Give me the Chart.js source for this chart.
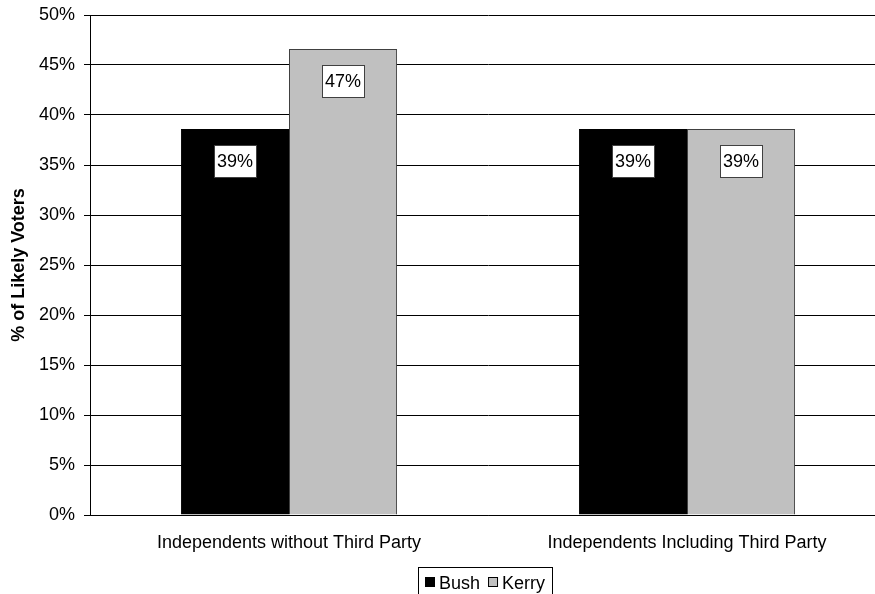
<!DOCTYPE html>
<html>
<head>
<meta charset="utf-8">
<script src="https://cdn.jsdelivr.net/npm/chart.js@4.4.1/dist/chart.umd.min.js"></script>
<style>
  html, body { margin: 0; padding: 0; overflow: hidden; background: #fff; }
  #wrap { width: 875px; height: 594px; overflow: hidden; position: relative; }
  canvas { display: block; }
</style>
</head>
<body>
<div id="wrap"><canvas id="chart" width="900" height="594"></canvas></div>
<script>
// Categories and series values (% of likely voters)
const categories = ['Independents without Third Party', 'Independents Including Third Party'];
const bushValues = [38.6, 38.6];
const kerryValues = [46.6, 38.6];
const seriesNames = ['Bush', 'Kerry'];

// Y axis range and step (percent)
const yMin = 0;
const yMax = 50;
const yStep = 5;

const FONT_FAMILY = '"Liberation Sans", Arial, Helvetica, sans-serif';

// White boxed value labels near the top of each bar
const valueLabels = {
  id: 'valueLabels',
  afterDatasetsDraw(chart) {
    const ctx = chart.ctx;
    ctx.save();
    ctx.font = '18px ' + FONT_FAMILY;
    ctx.textAlign = 'center';
    ctx.textBaseline = 'middle';
    chart.data.datasets.forEach((ds, di) => {
      const meta = chart.getDatasetMeta(di);
      meta.data.forEach((bar, i) => {
        const text = Math.round(ds.data[i]) + '%';
        const w = Math.round(ctx.measureText(text).width) + 6;
        const h = 32;
        const x = Math.round(bar.x - w / 2);
        const y = Math.round(bar.y + 16);
        ctx.fillStyle = '#ffffff';
        ctx.fillRect(x, y, w, h);
        ctx.strokeStyle = '#404040';
        ctx.lineWidth = 1;
        ctx.strokeRect(x + 0.5, y + 0.5, w, h);
        ctx.fillStyle = '#000000';
        ctx.fillText(text, bar.x, y + h / 2 + 1);
      });
    });
    ctx.restore();
  }
};

// Boxed legend centred under the plot
const boxedLegend = {
  id: 'boxedLegend',
  afterDraw(chart) {
    const ctx = chart.ctx;
    ctx.save();
    ctx.font = '18px ' + FONT_FAMILY;
    ctx.textBaseline = 'alphabetic';
    ctx.textAlign = 'left';
    const sw = 10, gap = 4, itemGap = 8, pad = 7;
    const items = chart.data.datasets.map(ds => ({
      label: ds.label, fill: ds.backgroundColor,
      w: ctx.measureText(ds.label).width
    }));
    let total = pad * 2 + itemGap * (items.length - 1);
    items.forEach(it => { total += sw + gap + it.w; });
    const cx = 485;
    const left = Math.round(cx - total / 2);
    const top = 567;
    ctx.strokeStyle = '#000';
    ctx.lineWidth = 1;
    ctx.strokeRect(left + 0.5, top + 0.5, Math.round(total), 40);
    let x = left + pad;
    items.forEach(it => {
      ctx.fillStyle = it.fill;
      ctx.fillRect(x, 577, sw, sw);
      ctx.strokeStyle = '#000';
      ctx.strokeRect(x + 0.5, 577.5, sw - 1, sw - 1);
      x += sw + gap;
      ctx.fillStyle = '#000';
      ctx.fillText(it.label, x, 589);
      x += it.w + itemGap;
    });
    ctx.restore();
  }
};

new Chart(document.getElementById('chart'), {
  type: 'bar',
  data: {
    labels: categories,
    datasets: [
      {
        label: seriesNames[0],
        data: bushValues,
        backgroundColor: '#000000',
        borderColor: '#000000',
        borderWidth: 1
      },
      {
        label: seriesNames[1],
        data: kerryValues,
        backgroundColor: '#c0c0c0',
        borderColor: '#404040',
        borderWidth: 1
      }
    ]
  },
  options: {
    responsive: false,
    animation: false,
    devicePixelRatio: 1,
    categoryPercentage: 0.543,
    barPercentage: 1.0,
    layout: { padding: { top: 15, right: 14, bottom: 0, left: 0 } },
    plugins: {
      legend: { display: false },
      tooltip: { enabled: false }
    },
    scales: {
      x: {
        grid: { display: false, drawTicks: false },
        border: { display: true, color: '#000', width: 1 },
        ticks: {
          color: '#000',
          padding: 17,
          maxRotation: 0,
          autoSkip: false,
          font: { family: FONT_FAMILY, size: 18 }
        },
        afterFit(scale) {
          scale.height = 79;
          scale.paddingLeft = 0;
          scale.paddingRight = 0;
        }
      },
      y: {
        min: yMin,
        max: yMax,
        grid: { color: '#000', lineWidth: 1, drawTicks: true, tickLength: 6 },
        border: { display: true, color: '#000', width: 1 },
        ticks: {
          stepSize: yStep,
          color: '#000',
          padding: 9,
          font: { family: FONT_FAMILY, size: 18 },
          callback: v => v + '%'
        },
        title: {
          display: true,
          text: '% of Likely Voters',
          color: '#000',
          padding: { top: 8, bottom: 0 },
          font: { family: FONT_FAMILY, size: 18, weight: 'bold' }
        },
        afterFit(scale) {
          scale.width = 90;
          scale.paddingTop = 0;
          scale.paddingBottom = 0;
        }
      }
    }
  },
  plugins: [valueLabels, boxedLegend]
});
</script>
</body>
</html>
